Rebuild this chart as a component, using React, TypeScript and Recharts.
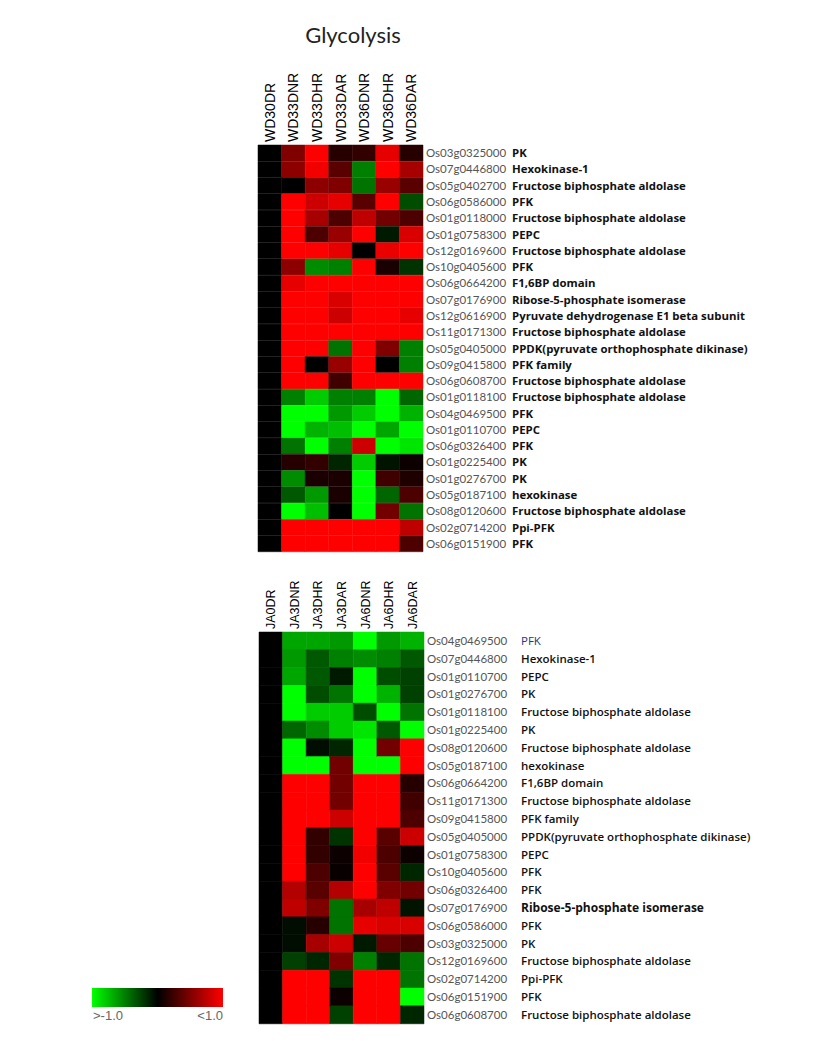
import { BarChart, Bar, XAxis, YAxis, Cell } from 'recharts';

// ---- top panel (WD) ----
const topColumns = ['WD30DR', 'WD33DNR', 'WD33DHR', 'WD33DAR', 'WD36DNR', 'WD36DHR', 'WD36DAR'];

const topGenes = [
  'Os03g0325000', 'Os07g0446800', 'Os05g0402700', 'Os06g0586000', 'Os01g0118000',
  'Os01g0758300', 'Os12g0169600', 'Os10g0405600', 'Os06g0664200', 'Os07g0176900',
  'Os12g0616900', 'Os11g0171300', 'Os05g0405000', 'Os09g0415800', 'Os06g0608700',
  'Os01g0118100', 'Os04g0469500', 'Os01g0110700', 'Os06g0326400', 'Os01g0225400',
  'Os01g0276700', 'Os05g0187100', 'Os08g0120600', 'Os02g0714200', 'Os06g0151900',
];

const topNames = [
  'PK', 'Hexokinase-1', 'Fructose biphosphate aldolase', 'PFK', 'Fructose biphosphate aldolase',
  'PEPC', 'Fructose biphosphate aldolase', 'PFK', 'F1,6BP domain', 'Ribose-5-phosphate isomerase',
  'Pyruvate dehydrogenase E1 beta subunit', 'Fructose biphosphate aldolase',
  'PPDK(pyruvate orthophosphate dikinase)', 'PFK family', 'Fructose biphosphate aldolase',
  'Fructose biphosphate aldolase', 'PFK', 'PEPC', 'PFK', 'PK',
  'PK', 'hexokinase', 'Fructose biphosphate aldolase', 'Ppi-PFK', 'PFK',
];

// log ratio, -1 (green) .. 0 (black) .. 1 (red)
const topValues = [
  [0, 0.5, 1, 0.15, 0.2, 0.9, 0.15],
  [0, 0.55, 0.95, 0.35, -0.5, 1, 0.65],
  [0, 0, 0.55, 0.5, -0.45, 0.6, 0.35],
  [0, 1, 0.8, 0.9, 0.35, 1, -0.3],
  [0, 1, 0.65, 0.3, 0.75, 0.45, 0.3],
  [0, 1, 0.3, 0.6, 1, -0.1, 0.85],
  [0, 1, 1, 0.9, 0, 0.92, 1],
  [0, 0.55, -0.55, -0.5, 1, 0.1, -0.2],
  [0, 0.9, 1, 1, 1, 1, 1],
  [0, 1, 1, 0.85, 1, 1, 1],
  [0, 1, 1, 0.8, 1, 1, 0.9],
  [0, 1, 1, 1, 1, 1, 1],
  [0, 1, 1, -0.45, 1, 0.5, -0.5],
  [0, 1, 0, 0.6, 1, 0, -0.5],
  [0, 1, 1, 0.25, 1, 1, 1],
  [0, -0.5, -0.8, -0.5, -0.5, -1, -0.4],
  [0, -1, -1, -0.6, -0.8, -1, -0.7],
  [0, -1, -0.7, -0.75, -1, -0.65, -1],
  [0, -0.45, -1, -0.5, 0.8, -1, -0.9],
  [0, 0.15, 0.2, -0.15, -0.8, -0.08, 0.05],
  [0, -0.55, 0.1, 0.1, -1, 0.25, 0.12],
  [0, -0.35, -0.6, 0.1, -1, -0.4, 0.3],
  [0, -1, -0.75, 0, -1, 0.45, -0.45],
  [0, 1, 1, 1, 1, 1, 0.75],
  [0, 1, 1, 1, 1, 1, 0.3],
];

// ---- bottom panel (JA) ----
const bottomColumns = ['JA0DR', 'JA3DNR', 'JA3DHR', 'JA3DAR', 'JA6DNR', 'JA6DHR', 'JA6DAR'];

const bottomGenes = [
  'Os04g0469500', 'Os07g0446800', 'Os01g0110700', 'Os01g0276700', 'Os01g0118100',
  'Os01g0225400', 'Os08g0120600', 'Os05g0187100', 'Os06g0664200', 'Os11g0171300',
  'Os09g0415800', 'Os05g0405000', 'Os01g0758300', 'Os10g0405600', 'Os06g0326400',
  'Os07g0176900', 'Os06g0586000', 'Os03g0325000', 'Os12g0169600', 'Os02g0714200',
  'Os06g0151900', 'Os06g0608700',
];

const bottomNames = [
  'PFK', 'Hexokinase-1', 'PEPC', 'PK', 'Fructose biphosphate aldolase',
  'PK', 'Fructose biphosphate aldolase', 'hexokinase', 'F1,6BP domain', 'Fructose biphosphate aldolase',
  'PFK family', 'PPDK(pyruvate orthophosphate dikinase)', 'PEPC', 'PFK', 'PFK',
  'Ribose-5-phosphate isomerase', 'PFK', 'PK', 'Fructose biphosphate aldolase', 'Ppi-PFK',
  'PFK', 'Fructose biphosphate aldolase',
];

const bottomValues = [
  [0, -0.65, -0.65, -0.6, -1, -0.6, -0.7],
  [0, -0.6, -0.35, -0.5, -0.55, -0.5, -0.35],
  [0, -0.65, -0.35, -0.1, -1, -0.3, -0.25],
  [0, -1, -0.3, -0.45, -1, -0.7, -0.25],
  [0, -1, -0.8, -0.8, -0.3, -1, -0.45],
  [0, -0.4, -0.55, -0.8, -0.9, -0.35, -1],
  [0, -1, -0.05, -0.15, -1, 0.45, 1],
  [0, -1, -1, 0.45, -1, -1, 1],
  [0, 1, 1, 0.45, 1, 1, 0.15],
  [0, 1, 1, 0.45, 1, 1, 0.25],
  [0, 1, 1, 0.8, 1, 1, 0.3],
  [0, 1, 0.2, -0.2, 1, 0.35, 0.8],
  [0, 1, 0.2, 0.05, 0.95, 0.3, 0.05],
  [0, 1, 0.3, 0.03, 1, 0.35, -0.15],
  [0, 0.7, 0.35, 0.7, 1, 0.5, 0.45],
  [0, 0.75, 0.5, -0.45, 0.65, 0.75, -0.08],
  [0, -0.05, 0.15, -0.45, 0.9, 0.85, 0.85],
  [0, -0.05, 0.65, 0.8, -0.1, 0.4, 0.3],
  [0, -0.25, -0.15, 0.5, -0.5, -0.15, -0.45],
  [0, 1, 1, -0.2, 1, 1, -0.45],
  [0, 1, 1, 0.05, 1, 1, -1],
  [0, 1, 1, -0.25, 1, 1, -0.15],
];

const legendLabels = ['>-1.0', '<1.0'];

const colTicks = [0.5, 1.5, 2.5, 3.5, 4.5, 5.5, 6.5];

function heatColor(v: number) {
  const c = Math.round(Math.min(1, Math.abs(v)) * 255);
  return v >= 0 ? `rgb(${c},0,0)` : `rgb(0,${c},0)`;
}

interface HeatmapProps {
  columns: string[];
  genes: string[];
  names: string[];
  values: number[][];
  top: number;
  height: number;
  marginTop: number;
  rowHeight: number;
  plotLeft: number;
  labelBottom: number;
  labelSize: number;
  idX: number;
  nameX: number;
  bottomPanel?: boolean;
}

function Heatmap(p: HeatmapProps) {
  const rows = p.genes.map((g) => {
    const r: any = { gene: g };
    p.columns.forEach((_, j) => (r[`c${j}`] = 1));
    return r;
  });
  const xAxisHeight = 60;
  const yAxisWidth = 340;
  const plotWidth = 165;
  const rightMargin = 818 - p.plotLeft - plotWidth - yAxisWidth;
  const bottomMargin = p.height - p.marginTop - xAxisHeight - p.genes.length * p.rowHeight;

  const ColTick = (t: any) => {
    const idx = Math.floor(t.payload.value);
    return (
      <text
        transform={`translate(${t.x + p.labelSize * 0.36},${p.labelBottom}) rotate(-90)`}
        fontFamily="'Liberation Sans', Arial, sans-serif"
        fontSize={p.labelSize}
        fill="#000"
      >
        {p.columns[idx]}
      </text>
    );
  };

  const RowTick = (t: any) => {
    const i = t.index ?? t.payload.index;
    const name = p.names[i];
    let color = '#111';
    let weight = p.bottomPanel ? 600 : 700;
    let size = p.bottomPanel ? 11.5 : 11.4;
    if (p.bottomPanel && i === 0) {
      color = '#1d3a80';
      weight = 400;
    }
    if (p.bottomPanel && name.startsWith('Ribose')) {
      size = 12;
      weight = 700;
    }
    return (
      <g>
        <text x={p.idX} y={t.y} dy={4} fontFamily="Lato, sans-serif" fontSize={11.5} fill="#555">
          {t.payload.value}
        </text>
        <text x={p.nameX} y={t.y} dy={4} fontFamily="'Open Sans', sans-serif" fontSize={size} fontWeight={weight} fill={color}>
          {name}
        </text>
      </g>
    );
  };

  return (
    <div style={{ position: 'absolute', left: 0, top: p.top }}>
      <BarChart
        width={818}
        height={p.height}
        data={rows}
        layout="vertical"
        barCategoryGap={0}
        barGap={0}
        margin={{ top: p.marginTop, left: p.plotLeft, right: rightMargin, bottom: bottomMargin }}
      >
        <XAxis
          type="number"
          orientation="top"
          domain={[0, 7]}
          ticks={colTicks}
          interval={0}
          height={xAxisHeight}
          axisLine={false}
          tickLine={false}
          tick={<ColTick />}
        />
        <YAxis
          type="category"
          dataKey="gene"
          orientation="right"
          width={yAxisWidth}
          interval={0}
          axisLine={false}
          tickLine={false}
          tick={<RowTick />}
        />
        {p.columns.map((c, j) => (
          <Bar key={c} dataKey={`c${j}`} stackId="h" isAnimationActive={false}>
            {p.values.map((r, i) => (
              <Cell key={i} fill={heatColor(r[j])} stroke={heatColor(r[j])} strokeWidth={0.5} />
            ))}
          </Bar>
        ))}
      </BarChart>
    </div>
  );
}

export default function App() {
  return (
    <div style={{ position: 'absolute', left: 0, top: 0, width: 818, height: 1041, background: '#fff' }}>
      <div
        style={{
          position: 'absolute',
          left: 253,
          top: 21,
          width: 200,
          textAlign: 'center',
          fontFamily: 'Lato, sans-serif',
          fontSize: 22,
          color: '#222',
        }}
      >
        Glycolysis
      </div>

      <Heatmap
        columns={topColumns}
        genes={topGenes}
        names={topNames}
        values={topValues}
        top={0}
        height={560}
        marginTop={85}
        rowHeight={16.28}
        plotLeft={258}
        labelBottom={142}
        labelSize={14}
        idX={426}
        nameX={512}
      />

      <Heatmap
        columns={bottomColumns}
        genes={bottomGenes}
        names={bottomNames}
        values={bottomValues}
        top={560}
        height={470}
        marginTop={12}
        rowHeight={17.8}
        plotLeft={259}
        labelBottom={69}
        labelSize={12.5}
        idX={427}
        nameX={521}
        bottomPanel
      />

      <svg style={{ position: 'absolute', left: 0, top: 0 }} width={818} height={1041} pointerEvents="none">
        <defs>
          <linearGradient id="legendGrad" x1="0" y1="0" x2="1" y2="0">
            <stop offset="0%" stopColor="#00ff00" />
            <stop offset="50%" stopColor="#000000" />
            <stop offset="100%" stopColor="#ff0000" />
          </linearGradient>
        </defs>
        <rect x={92} y={988} width={131} height={19} fill="url(#legendGrad)" />
        <text x={93} y={1020} fontFamily="'Liberation Sans', Arial, sans-serif" fontSize={13} fill="#666">
          {legendLabels[0]}
        </text>
        <text x={223} y={1020} textAnchor="end" fontFamily="'Liberation Sans', Arial, sans-serif" fontSize={13} fill="#666">
          {legendLabels[1]}
        </text>
      </svg>
    </div>
  );
}
